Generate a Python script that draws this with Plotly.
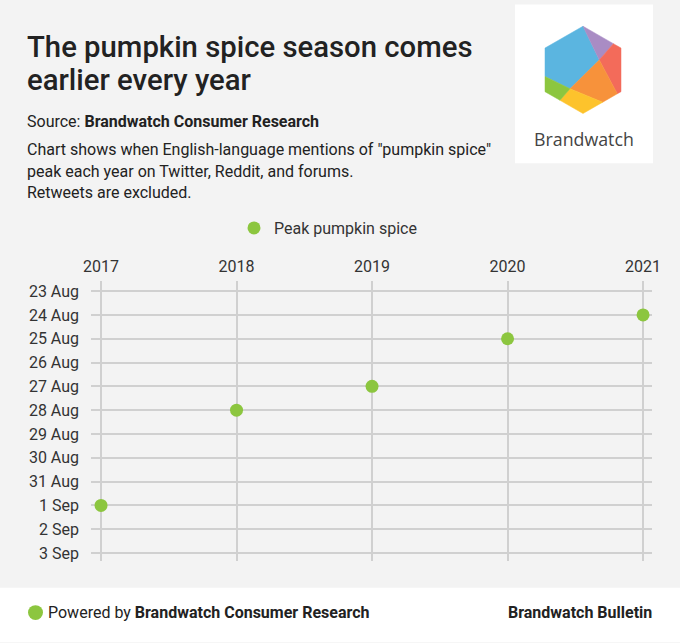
import plotly.graph_objects as go

# peak day of "pumpkin spice" mentions per year (dummy year 2000 on the y axis)
years = [2017, 2018, 2019, 2020, 2021]
peak_days = ["2000-09-01", "2000-08-28", "2000-08-27", "2000-08-25", "2000-08-24"]
series_name = "Peak pumpkin spice"

W, H = 680, 643
L, R, T, B = 91, 652, 279, 561  # plot area in pixels

GREEN = "#8cc63f"
BG = "#f3f3f3"
FONT = "Roboto"


def px(x):
    return (x - L) / (R - L)


def py(y):
    return (B - y) / (B - T)


fig = go.Figure()
fig.add_trace(go.Scatter(
    x=years, y=peak_days, mode="markers", name=series_name,
    marker=dict(size=13, color=GREEN),
    hovertemplate="%{x}: %{y|%-d %b}<extra></extra>",
))

shapes = []
# footer band and logo box
shapes.append(dict(type="rect", xref="paper", yref="paper", layer="below",
                   x0=px(0), x1=px(W), y0=py(H), y1=py(588),
                   fillcolor="white", line_width=0))
shapes.append(dict(type="rect", xref="paper", yref="paper", layer="below",
                   x0=px(515), x1=px(653), y0=py(160), y1=py(0),
                   fillcolor="white", line_width=0))
# footer dot
shapes.append(dict(type="circle", xref="paper", yref="paper",
                   x0=px(28), x1=px(43), y0=py(620.5), y1=py(605.5),
                   fillcolor=GREEN, line_width=0))

# Brandwatch hexagon logo
Tp, UR, LR, Bt, LL, UL = (583, 22), (621, 44), (621, 88), (583, 110), (545, 88), (545, 44)
P, Q = (599.3, 56), (570, 85)
Pe, Re, Ye, Ge, Lg = (613.4, 39.6), (617.3, 90.1), (602.7, 98.6), (560, 96.7), (545, 72.7)
pieces = [
    ([Tp, UL, Lg, Q, P], "#5bb5e0"),
    ([Tp, Pe, P], "#a98cc4"),
    ([Pe, UR, LR, Re, P], "#f36b5a"),
    ([P, Re, Ye, Q], "#f7923b"),
    ([Q, Ye, Bt, Ge], "#fdc32c"),
    ([Lg, Q, Ge, LL], "#8cc63f"),
]
for pts, col in pieces:
    path = "M " + " L ".join(f"{px(a):.5f},{py(b):.5f}" for a, b in pts) + " Z"
    shapes.append(dict(type="path", xref="paper", yref="paper", path=path,
                       fillcolor=col, line=dict(color=col, width=0.5)))


def note(text, x, y, size, color="#222", weight=None, xanchor="left", family=FONT):
    f = dict(family=family, size=size, color=color)
    if weight:
        f["weight"] = weight
    return dict(text=text, x=px(x), y=py(y), xref="paper", yref="paper",
                xanchor=xanchor, yanchor="middle", showarrow=False, font=f)


annotations = [
    note("The pumpkin spice season comes", 25, 43, 29.3, weight=500),
    note("earlier every year", 25, 76, 29.3, weight=500),
    note("Source: <b>Brandwatch Consumer Research</b>", 25, 118.5, 16),
    note('Chart shows when English-language mentions of "pumpkin spice"', 25, 146, 16),
    note("peak each year on Twitter, Reddit, and forums.", 25, 168, 16),
    note("Retweets are excluded.", 25, 190, 16),
    note("Brandwatch", 584, 136, 17.8, color="#444", xanchor="center", family="Open Sans"),
    note("Powered by <b>Brandwatch Consumer Research</b>", 46, 613, 16),
    note("<b>Brandwatch Bulletin</b>", 654, 613, 16, xanchor="right"),
]

fig.update_layout(
    width=W, height=H,
    margin=dict(l=L, r=W - R, t=T, b=H - B),
    paper_bgcolor=BG, plot_bgcolor=BG,
    font=dict(family=FONT, size=16, color="#333"),
    showlegend=True,
    legend=dict(orientation="h", xref="container", yref="container",
                x=234 / W, xanchor="left", y=1 - 228 / H, yanchor="middle",
                font=dict(size=16, color="#333"), bgcolor="rgba(0,0,0,0)"),
    shapes=shapes,
    annotations=annotations,
    xaxis=dict(side="top", range=[2016.926, 2021.066], tickvals=years,
               showgrid=True, gridcolor="#d0d0d0", gridwidth=1.5,
               zeroline=False, showline=False, ticks="",
               ticklabelstandoff=5, fixedrange=True),
    yaxis=dict(type="date", range=["2000-09-03 08:00", "2000-08-22 14:00"],
               tick0="2000-08-23", dtick=86400000, tickformat="%-d %b",
               showgrid=True, gridcolor="#d0d0d0", gridwidth=1.5,
               zeroline=False, showline=False, ticks="",
               ticklabelstandoff=11, fixedrange=True),
)

fig.write_html("out.html", config={"displayModeBar": False},
               post_script="document.body.style.margin='0';")
